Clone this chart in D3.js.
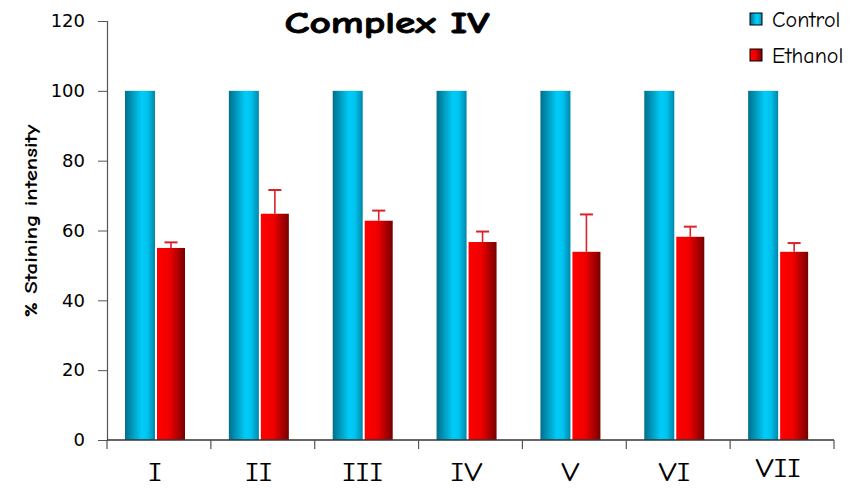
<!DOCTYPE html>
<html>
<head>
<meta charset="utf-8">
<script src="https://cdn.jsdelivr.net/npm/d3@7/dist/d3.min.js"></script>
<style>
  html, body { margin: 0; padding: 0; background: #fff; }
  svg { display: block; font-family: "Comic Sans MS", "Comic Neue", "DejaVu Sans", sans-serif; }
</style>
</head>
<body>
<svg id="chart" width="860" height="488"></svg>
<script>
// Regions of the brain section (roman numerals)
const categories = ["I", "II", "III", "IV", "V", "VI", "VII"];
const seriesNames = ["Control", "Ethanol"];
const controlValues = [100, 100, 100, 100, 100, 100, 100];
const ethanolValues = [55, 64.8, 62.8, 56.7, 53.9, 58.2, 53.9];
const ethanolErrors = [1.6, 6.8, 2.9, 3.0, 10.7, 2.9, 2.5];
const yTicks = [0, 20, 40, 60, 80, 100, 120];

const svg = d3.select("#chart");
const margin = { left: 107, right: 26, top: 21, bottom: 48 };
const W = 860, H = 488;

const x = d3.scaleBand().domain(categories).range([margin.left, W - margin.right]).padding(0);
const y = d3.scaleLinear().domain([0, 120]).range([H - margin.bottom, margin.top]);

// Gradients for the cylinder-like bar shading
const defs = svg.append("defs");
const gBlue = defs.append("linearGradient").attr("id", "gradControl").attr("x1", "0%").attr("x2", "100%");
gBlue.append("stop").attr("offset", "0%").attr("stop-color", "#006f8c");
gBlue.append("stop").attr("offset", "55%").attr("stop-color", "#00ccf8");
gBlue.append("stop").attr("offset", "75%").attr("stop-color", "#00c2ee");
gBlue.append("stop").attr("offset", "100%").attr("stop-color", "#0087aa");
const gRed = defs.append("linearGradient").attr("id", "gradEthanol").attr("x1", "0%").attr("x2", "100%");
gRed.append("stop").attr("offset", "0%").attr("stop-color", "#ff0000");
gRed.append("stop").attr("offset", "45%").attr("stop-color", "#f00000");
gRed.append("stop").attr("offset", "100%").attr("stop-color", "#780000");

// Bar layout inside each band
const groupOffset = 18;
const ctrlWidth = 30;
const gap = 2;
const ethWidth = 28;

const rows = categories.map((c, i) => ({
  cat: c, ctrl: controlValues[i], eth: ethanolValues[i], err: ethanolErrors[i]
}));

const groups = svg.append("g").selectAll("g").data(rows).join("g")
  .attr("transform", d => `translate(${x(d.cat) + groupOffset},0)`);

groups.append("rect")
  .attr("x", 0).attr("width", ctrlWidth)
  .attr("y", d => y(d.ctrl)).attr("height", d => y(0) - y(d.ctrl))
  .attr("fill", "url(#gradControl)");

groups.append("rect")
  .attr("x", ctrlWidth + gap).attr("width", ethWidth)
  .attr("y", d => y(d.eth)).attr("height", d => y(0) - y(d.eth))
  .attr("fill", "url(#gradEthanol)");

// Error bars (upper only)
const errColor = "#d8232a";
groups.append("line")
  .attr("x1", ctrlWidth + gap + ethWidth / 2).attr("x2", ctrlWidth + gap + ethWidth / 2)
  .attr("y1", d => y(d.eth)).attr("y2", d => y(d.eth + d.err))
  .attr("stroke", errColor).attr("stroke-width", 1.6);
groups.append("line")
  .attr("x1", ctrlWidth + gap + ethWidth / 2 - 6.5).attr("x2", ctrlWidth + gap + ethWidth / 2 + 6.5)
  .attr("y1", d => y(d.eth + d.err)).attr("y2", d => y(d.eth + d.err))
  .attr("stroke", errColor).attr("stroke-width", 2);

// Y axis
const yAxis = svg.append("g").attr("transform", `translate(${margin.left},0)`)
  .call(d3.axisLeft(y).tickValues(yTicks).tickSize(9).tickPadding(13));
yAxis.select(".domain").attr("stroke", "#555").attr("stroke-width", 1.2);
yAxis.selectAll(".tick line").attr("stroke", "#555");
yAxis.selectAll(".tick text").attr("font-size", 18).attr("fill", "#000")
  .attr("font-family", "'Comic Sans MS', 'DejaVu Sans', sans-serif");

// X axis: baseline with ticks at band boundaries
const xAxisG = svg.append("g");
xAxisG.append("line")
  .attr("x1", margin.left).attr("x2", W - margin.right)
  .attr("y1", y(0)).attr("y2", y(0))
  .attr("stroke", "#333").attr("stroke-width", 1.4);
const boundaries = categories.map(c => x(c)).concat([x(categories[categories.length - 1]) + x.bandwidth()]);
xAxisG.selectAll("line.tk").data(boundaries).join("line").attr("class", "tk")
  .attr("x1", d => d).attr("x2", d => d)
  .attr("y1", y(0)).attr("y2", y(0) + 9)
  .attr("stroke", "#555").attr("stroke-width", 1.2);
xAxisG.selectAll("text").data(categories).join("text")
  .attr("transform", (d, i) => `translate(${x(d) + x.bandwidth() / 2 - 4},${i === 6 ? 477 : 481}) scale(1.33,1)`)
  .attr("text-anchor", "middle")
  .attr("font-size", 26)
  .attr("fill", "#000")
  .text(d => d);

// Y axis title
svg.append("text")
  .attr("transform", `translate(37,221) rotate(-90)`)
  .attr("text-anchor", "middle")
  .attr("font-size", 19).attr("font-weight", "bold")
  .attr("textLength", 193).attr("lengthAdjust", "spacingAndGlyphs")
  .text("% Staining intensity");

// Chart title
svg.append("text")
  .attr("x", 387).attr("y", 33)
  .attr("text-anchor", "middle")
  .attr("font-size", 30).attr("font-weight", "bold")
  .attr("stroke", "#000").attr("stroke-width", 0.8)
  .attr("textLength", 205).attr("lengthAdjust", "spacingAndGlyphs")
  .text("Complex IV");

// Legend
const legend = svg.append("g").attr("transform", "translate(750,13)");
const legendFills = ["url(#gradControl)", "url(#gradEthanol)"];
seriesNames.forEach((name, i) => {
  const row = legend.append("g").attr("transform", `translate(0,${i * 36})`);
  row.append("rect").attr("x", 0).attr("y", 0).attr("width", 12).attr("height", 12)
    .attr("fill", legendFills[i]).attr("stroke", "#000").attr("stroke-width", 1);
  row.append("text").attr("x", 22).attr("y", 14).attr("font-size", 22).text(name);
});
</script>
</body>
</html>
